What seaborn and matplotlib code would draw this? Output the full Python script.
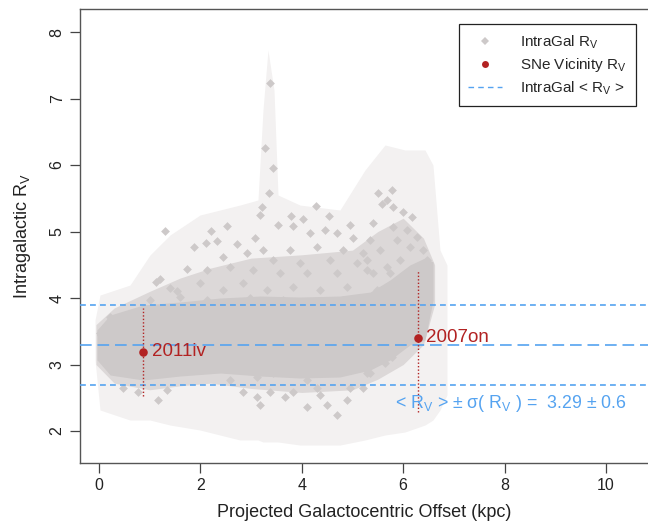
import numpy as np
import pandas as pd
import matplotlib
matplotlib.use("Agg")
import matplotlib.pyplot as plt
import seaborn as sns
from matplotlib.lines import Line2D

# ---------------- data ----------------
# scattered IntraGal R_V pixels (offset kpc, R_V)
gal_x = [3.373, 3.274, 3.432, 3.353, 3.215, 3.176, 1.302, 2.209, 2.525, 2.110,
         2.327, 1.874, 1.736, 1.124, 1.203, 1.400, 1.538, 0.769, 1.164, 0.039,
         4.280, 4.536, 3.787, 4.024, 5.503, 5.582, 5.779, 5.680, 5.404, 4.951,
         3.531, 3.077, 4.458, 4.694, 4.103, 4.694, 3.116, 3.669, 4.300, 5.641,
         5.799, 5.996, 6.174, 5.799, 6.075, 6.272, 5.345, 5.878, 6.134, 6.469,
         6.391, 5.542, 5.286, 5.937, 6.272, 5.680, 6.469, 5.404, 5.996, 5.779,
         5.542, 5.345, 2.722, 3.826, 4.162, 5.010, 3.235, 3.767, 4.300, 4.813,
         5.207, 2.446, 2.919, 3.432, 3.964, 4.556, 5.089, 2.130, 2.584, 3.037,
         3.570, 4.103, 4.694, 5.286, 5.740, 1.992, 2.446, 2.840, 3.314, 3.826,
         4.359, 4.892, 5.483, 5.996, 1.006, 1.598, 2.130, 2.978, 3.629, 4.813,
         5.542, 0.217, 0.552, 0.020, 1.341, 0.473, 2.840, 3.176, 3.373, 3.826,
         4.359, 4.497, 4.892, 4.951, 5.207, 5.286, 3.432, 3.116, 2.584, 4.103]
gal_rv = [7.233, 6.256, 5.955, 5.579, 5.368, 5.248, 5.008, 5.008, 5.083, 4.827,
          4.857, 4.767, 4.436, 4.241, 4.286, 4.150, 4.105, 2.586, 2.466, 3.444,
          5.383, 5.233, 5.233, 5.188, 5.579, 5.414, 5.624, 5.474, 5.128, 5.098,
          5.098, 4.902, 5.023, 4.977, 2.361, 2.241, 2.511, 2.511, 2.647, 3.023,
          5.368, 5.293, 5.218, 5.068, 5.023, 4.917, 4.872, 4.872, 4.767, 4.571,
          4.722, 4.722, 4.571, 4.571, 4.466, 4.466, 4.376, 4.376, 4.271, 3.113,
          3.068, 2.872, 4.812, 5.083, 4.977, 4.902, 4.722, 4.722, 4.767, 4.722,
          4.677, 4.617, 4.677, 4.571, 4.526, 4.571, 4.526, 4.421, 4.466, 4.421,
          4.376, 4.376, 4.376, 4.421, 4.376, 4.226, 4.120, 4.226, 4.120, 4.165,
          4.120, 4.165, 4.120, 4.165, 3.970, 4.015, 3.970, 4.000, 3.970, 3.970,
          4.015, 3.714, 3.669, 3.474, 2.617, 2.647, 2.586, 2.391, 2.586, 2.586,
          2.541, 2.391, 2.466, 2.647, 2.647, 2.872, 2.872, 2.812, 2.767, 2.767]

# dense core of the IntraGal cloud (upper / lower edge)
core_x = [-0.04, 0.22, 0.87, 1.60, 2.39, 3.18, 3.96, 4.75, 5.35, 5.74, 6.13, 6.43, 6.59]
core_hi = [3.52, 3.744, 3.895, 3.940, 4.000, 4.030, 4.015, 4.030, 4.090, 4.271, 4.496, 4.602, 4.541]
core_lo = [3.07, 2.842, 2.767, 2.827, 2.872, 2.827, 2.797, 2.812, 2.917, 3.068, 3.293, 3.368, 3.970]

# zone where the IntraGal pixels overlap only partly
mid_x = [-0.06, 0.30, 1.00, 1.60, 2.20, 3.00, 4.00, 5.00, 5.50, 6.00, 6.40, 6.62]
mid_hi = [3.60, 3.85, 4.10, 4.30, 4.45, 4.60, 4.65, 4.72, 5.00, 5.20, 4.90, 4.50]
mid_lo = [3.00, 2.72, 2.62, 2.68, 2.72, 2.64, 2.58, 2.62, 2.78, 3.00, 3.30, 3.90]

# extent of the faint IntraGal error bars
err_x = [-0.079, 0.020, 0.611, 1.006, 1.400, 1.992, 2.781, 3.136, 3.235, 3.333,
         3.452, 3.531, 3.964, 4.753, 5.247, 5.641, 6.035, 6.430, 6.588, 6.726, 6.864]
err_hi = [3.669, 4.045, 4.195, 4.647, 4.947, 5.248, 5.398, 5.474, 6.827, 7.730,
          7.128, 5.549, 5.398, 5.323, 5.925, 6.301, 6.226, 6.226, 6.000, 4.722, 4.496]
err_lo = [3.068, 2.316, 2.165, 2.165, 2.090, 2.015, 1.865, 1.865, 1.835, 1.835,
          1.835, 1.835, 1.789, 1.789, 1.865, 1.940, 1.985, 2.090, 2.165, 2.316, 2.541]

# SNe vicinity
sne_names = ["2011iv", "2007on"]
sne_x = [0.87, 6.29]
sne_rv = [3.19, 3.40]
sne_lo = [2.52, 2.28]
sne_hi = [3.85, 4.42]

rv_mean = 3.29
rv_sigma = 0.6

x_ticks = [0, 2, 4, 6, 8, 10]
y_ticks = [2, 3, 4, 5, 6, 7, 8]

# ---------------- style ----------------
sns.set_theme(style="white")
plt.rcParams['font.family'] = ['Liberation Sans', 'DejaVu Sans']
plt.rcParams['mathtext.fontset'] = 'custom'
plt.rcParams['mathtext.rm'] = 'Liberation Sans'
plt.rcParams['mathtext.it'] = 'Liberation Sans:italic'

GREY = '#cdc9c9'
MID = '#dcd8d8'
FAINT = '#f3f1f1'
RED = '#b22222'
BLUE = '#55a3f0'

fig = plt.figure(figsize=(6.48, 5.26), dpi=100)
ax = fig.add_axes([80 / 648, 1 - 463 / 526, 1 - 80 / 648, (463 - 9) / 526])

# faint error bar envelope, partly filled zone and dense core
ax.fill_between(err_x, err_lo, err_hi, color=FAINT, lw=0, zorder=1)
ax.fill_between(mid_x, mid_lo, mid_hi, color=MID, lw=0, zorder=2)
ax.fill_between(core_x, core_lo, core_hi, color=GREY, lw=0, zorder=2.5)

gal = pd.DataFrame({"x": gal_x, "rv": gal_rv})
sns.scatterplot(data=gal, x="x", y="rv", ax=ax, marker="D", s=20, color=GREY,
                linewidth=0, zorder=3, legend=False)

# mean and +/- sigma lines
ax.axhline(rv_mean, color=BLUE, lw=1.2, dashes=(7, 3.5), zorder=4)
ax.axhline(rv_mean + rv_sigma, color=BLUE, lw=1.2, dashes=(3.5, 2.5), zorder=4)
ax.axhline(rv_mean - rv_sigma, color=BLUE, lw=1.2, dashes=(3.5, 2.5), zorder=4)

# SNe error bars and points
for xx, lo, hi in zip(sne_x, sne_lo, sne_hi):
    ax.vlines(xx, lo, hi, color=RED, lw=1.0, linestyles=(0, (1, 1.5)), zorder=5)
sne = pd.DataFrame({"x": sne_x, "rv": sne_rv})
sns.scatterplot(data=sne, x="x", y="rv", ax=ax, marker="o", s=38, color=RED,
                linewidth=0, zorder=6, legend=False)
for name, xx, yy in zip(sne_names, sne_x, sne_rv):
    ax.text(xx + 0.17, yy, name, color=RED, fontsize=13.5, va='center', ha='left', zorder=7)

ax.text(8.12, 2.42, r'< $\mathrm{R_V}$ > $\pm$ σ( $\mathrm{R_V}$ ) =  %.2f $\pm$ %.1f' % (rv_mean, rv_sigma),
        color=BLUE, fontsize=12.8, ha='center', va='center', zorder=7)

# axes
ax.set_xlim(-0.375, 10.83)
ax.set_ylim(1.519, 8.346)
ax.set_xticks(x_ticks)
ax.set_yticks(y_ticks)
ax.set_xticklabels([str(t) for t in x_ticks])
ax.set_yticklabels([str(t) for t in y_ticks], rotation=90, va='center')
ax.tick_params(axis='both', direction='out', length=7, width=0.9, color='#444444',
               labelsize=11.5, labelcolor='#222222', pad=4, bottom=True, left=True)
for side in ['left', 'bottom', 'top']:
    ax.spines[side].set_color('#555555')
    ax.spines[side].set_linewidth(1.0)
ax.spines['right'].set_visible(False)
ax.set_xlabel('Projected Galactocentric Offset (kpc)', fontsize=13, color='#222222', labelpad=8)
ax.set_ylabel(r'Intragalactic $\mathrm{R_V}$', fontsize=13, color='#222222', labelpad=12)

handles = [
    Line2D([], [], marker='D', color=GREY, ls='none', markersize=4.5, markeredgewidth=0),
    Line2D([], [], marker='o', color=RED, ls='none', markersize=5, markeredgewidth=0),
    Line2D([], [], color=BLUE, lw=1.0, dashes=(4, 3)),
]
labels = [r'IntraGal $\mathrm{R_V}$', r'SNe Vicinity $\mathrm{R_V}$', r'IntraGal < $\mathrm{R_V}$ >']
leg = ax.legend(handles, labels, loc='upper right', bbox_to_anchor=((636 - 80) / 568, (463 - 24) / 454),
                fontsize=11, frameon=True, fancybox=False, edgecolor='#222222', framealpha=1,
                borderpad=0.6, labelspacing=0.35, handlelength=2.2, handletextpad=1.2,
                borderaxespad=0)
leg.get_frame().set_linewidth(0.9)
leg.set_zorder(10)

fig.savefig('out.png', dpi=100)
